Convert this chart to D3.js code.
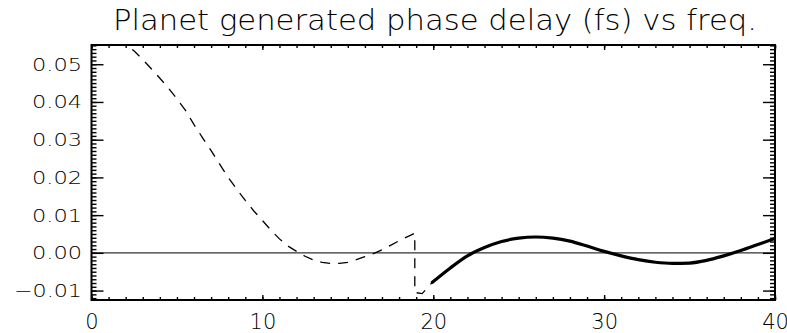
<!DOCTYPE html>
<html>
<head>
<meta charset="utf-8">
<script src="https://cdn.jsdelivr.net/npm/d3@7"></script>
<style>
  body { margin: 0; background: #fff; }
  text { font-family: "DejaVu Sans", sans-serif; font-weight: 200; fill: #000; }
</style>
</head>
<body>
<div id="chart"></div>
<script>
// tick values
var xTicks = [0, 10, 20, 30, 40];
var yTicks = [-0.01, 0.00, 0.01, 0.02, 0.03, 0.04, 0.05];

// dashed part of the curve (below ~19)
var dashX = [1.5, 2.0, 2.5, 3.0, 3.5, 4.0, 4.5, 5.0, 5.5, 6.0, 6.5, 7.0, 7.5, 8.0, 8.5, 9.0, 9.5,
             10.0, 10.5, 11.0, 11.5, 12.0, 12.5, 13.0, 13.5, 14.0, 14.5, 15.0, 15.5, 16.0, 16.5,
             17.0, 17.5, 18.0, 18.5, 18.92, 18.92, 19.35, 19.95];
var dashY = [0.0565, 0.0553, 0.0535, 0.0512, 0.0488, 0.0463, 0.0437, 0.0408, 0.0378, 0.0340, 0.0305,
             0.0271, 0.0235, 0.0200, 0.0169, 0.0139, 0.0111, 0.0086, 0.0060, 0.0037, 0.0018, 0.0004,
             -0.0009, -0.0019, -0.0025, -0.0028, -0.0028, -0.0025, -0.0018, -0.0010, -0.0002,
             0.0008, 0.0020, 0.0032, 0.0043, 0.0052, -0.0105, -0.0108, -0.0078];

// thick solid part
var solidX = [19.95, 21, 22, 23, 24, 25, 26, 27, 28, 29, 30, 31, 32, 33, 34, 35, 36, 37, 38, 39, 40];
var solidY = [-0.0078, -0.0040, -0.0008, 0.0014, 0.0030, 0.0039, 0.0042, 0.0039, 0.0031, 0.0018, 0.0004,
              -0.0008, -0.0018, -0.0025, -0.0028, -0.0027, -0.0020, -0.0008, 0.0006, 0.0022, 0.0038];

var W = 787, H = 333;
var pLeft = 91.5, pRight = 775, pTop = 45, pBottom = 300;

var svg = d3.select("#chart").append("svg")
    .attr("width", W)
    .attr("height", H);

var x = d3.scaleLinear().domain([0, 40]).range([pLeft, pRight]);
var y = d3.scaleLinear().domain([-0.0125, 0.0551]).range([pBottom, pTop]);

svg.append("clipPath").attr("id", "plot")
  .append("rect")
    .attr("x", pLeft).attr("y", pTop)
    .attr("width", pRight - pLeft).attr("height", pBottom - pTop);

// title
svg.append("text")
    .attr("x", 113)
    .attr("y", 30)
    .attr("font-size", 27.5)
    .attr("textLength", 644)
    .attr("lengthAdjust", "spacingAndGlyphs")
    .text("Planet generated phase delay (fs) vs freq.");

// zero line
svg.append("line")
    .attr("x1", pLeft).attr("x2", pRight)
    .attr("y1", y(0)).attr("y2", y(0))
    .attr("stroke", "#333")
    .attr("stroke-width", 1.3);

var minorY = d3.range(-12, 56).map(function(i) { return i / 1000; });
var minorX = d3.range(0, 41);

// left axis
svg.append("g")
    .attr("transform", "translate(" + pLeft + ",0)")
    .call(d3.axisLeft(y).tickValues(minorY).tickSize(-5).tickFormat(""));
var yAxis = svg.append("g")
    .attr("transform", "translate(" + pLeft + ",0)")
    .call(d3.axisLeft(y).tickValues(yTicks).tickSize(-12).tickPadding(9.5).tickFormat(d3.format(".2f")));
yAxis.selectAll("text")
    .attr("font-size", 18.5)
    .attr("textLength", function(d) { return d < 0 ? 68 : 50; })
    .attr("lengthAdjust", "spacingAndGlyphs");

// right axis
svg.append("g")
    .attr("transform", "translate(" + pRight + ",0)")
    .call(d3.axisRight(y).tickValues(minorY).tickSize(-5).tickFormat(""));
svg.append("g")
    .attr("transform", "translate(" + pRight + ",0)")
    .call(d3.axisRight(y).tickValues(yTicks).tickSize(-12).tickFormat(""));

// bottom axis
svg.append("g")
    .attr("transform", "translate(0," + pBottom + ")")
    .call(d3.axisBottom(x).tickValues(minorX).tickSize(-3).tickFormat(""));
var xAxis = svg.append("g")
    .attr("transform", "translate(0," + pBottom + ")")
    .call(d3.axisBottom(x).tickValues(xTicks).tickSize(-5).tickPadding(14).tickFormat(d3.format("d")));
xAxis.selectAll("text")
    .attr("font-size", 21);

// top axis
svg.append("g")
    .attr("transform", "translate(0," + pTop + ")")
    .call(d3.axisTop(x).tickValues(minorX).tickSize(-3).tickFormat(""));
svg.append("g")
    .attr("transform", "translate(0," + pTop + ")")
    .call(d3.axisTop(x).tickValues(xTicks).tickSize(-5).tickFormat(""));

svg.selectAll(".domain").remove();
svg.selectAll(".tick line").attr("stroke", "#000").attr("stroke-width", 1.4);
svg.selectAll(".tick text").attr("fill", "#000").attr("font-family", "DejaVu Sans, sans-serif");

// frame
svg.append("rect")
    .attr("x", pLeft).attr("y", pTop)
    .attr("width", pRight - pLeft).attr("height", pBottom - pTop)
    .attr("fill", "none")
    .attr("stroke", "#000")
    .attr("stroke-width", 2);

var line = d3.line()
    .x(function(d) { return x(d[0]); })
    .y(function(d) { return y(d[1]); });

svg.append("path")
    .datum(d3.zip(dashX, dashY))
    .attr("clip-path", "url(#plot)")
    .attr("d", line)
    .attr("fill", "none")
    .attr("stroke", "#000")
    .attr("stroke-width", 1.3)
    .attr("stroke-dasharray", "10,8");

svg.append("path")
    .datum(d3.zip(solidX, solidY))
    .attr("clip-path", "url(#plot)")
    .attr("d", line.curve(d3.curveMonotoneX))
    .attr("fill", "none")
    .attr("stroke", "#000")
    .attr("stroke-width", 3.2)
    .attr("stroke-linecap", "round");
</script>
</body>
</html>
